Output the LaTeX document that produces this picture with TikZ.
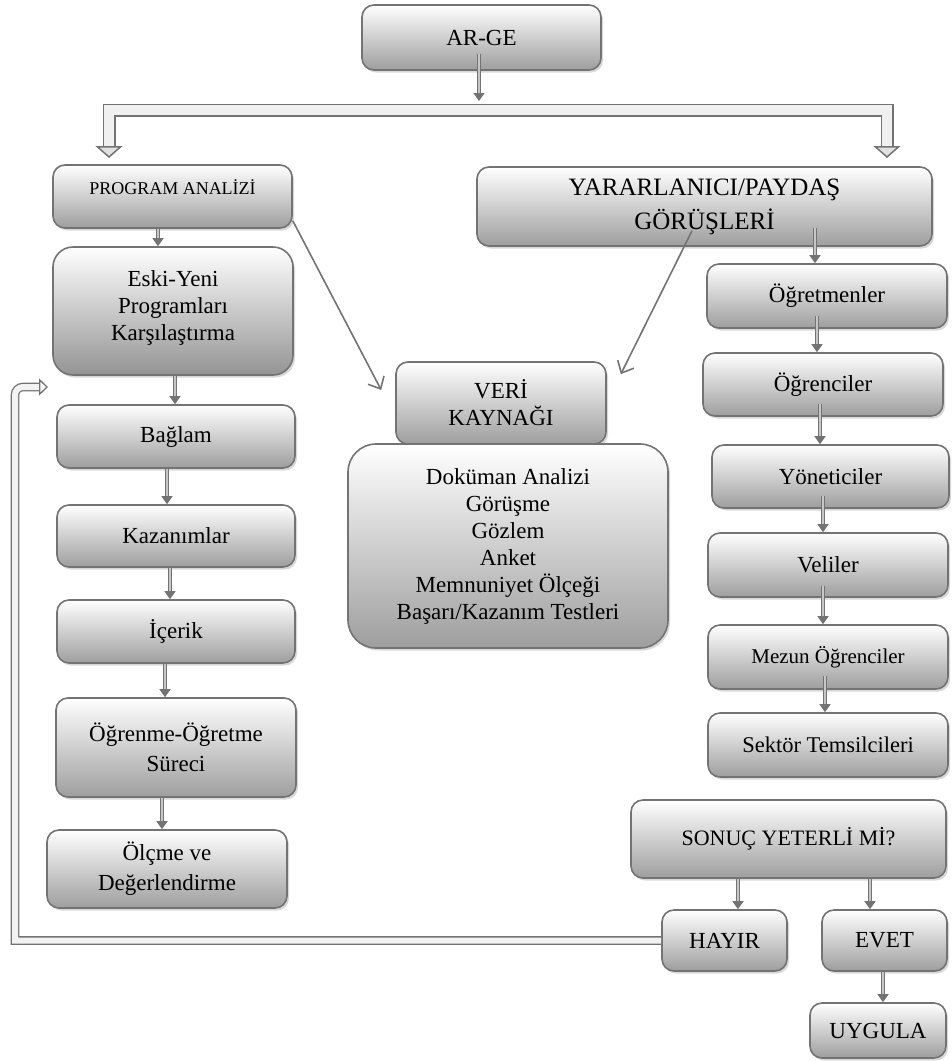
\documentclass[tikz,border=0pt]{standalone}
\usepackage{fontspec}
\setmainfont{Liberation Serif}
\usetikzlibrary{arrows.meta,shadows,calc}
\begin{document}
\begin{tikzpicture}[x=1pt,y=-1pt,
  box/.style={draw=black!55, line width=1.6pt, rounded corners=12pt,
    top color=white, bottom color=black!38,
    drop shadow={shadow xshift=2pt, shadow yshift=-2.5pt, opacity=.3},
    align=center, inner sep=2pt, text=black,
    font=\fontsize{23}{27}\selectfont},
  conn/.style={draw=black!55, line width=1.3pt, double=black!22, double distance=1.8pt,
    -{Triangle[length=8pt,width=11pt]}},
  bigarrow/.style={draw=black!55, line width=1.5pt, double=black!6, double distance=10pt,
    {Triangle[length=12pt,width=27pt,fill=black!12,line width=1.5pt]}-{Triangle[length=12pt,width=27pt,fill=black!12,line width=1.5pt]}},
  fbarrow/.style={draw=black!55, line width=1.3pt, double=black!5, double distance=6pt,
    -{Triangle[length=9pt,width=17pt,fill=white,line width=1.3pt]}},
  vline/.style={draw=black!55, line width=1.6pt, -{Straight Barb[length=10pt,width=18pt]}}
]
\fill[white] (0,0) rectangle (952,1061);
\useasboundingbox (0,0) rectangle (952,1061);

% nodes
\node[box, minimum width=239pt, minimum height=65pt] (arge) at (481.5,37.5) {AR-GE};
\node[box, minimum width=239pt, minimum height=63pt, font=\fontsize{18}{21}\selectfont] (progan) at (172.5,196.5)
  {\raisebox{9.5pt}[\height][\depth]{PROGRAM ANALİZİ}};
\node[box, minimum width=455pt, minimum height=79pt, font=\fontsize{25}{34}\selectfont] (yarar) at (704.5,206.5)
  {YARARLANICI/PAYDAŞ\\GÖRÜŞLERİ};
\node[box, rounded corners=20pt, bottom color=black!42, minimum width=240pt, minimum height=128pt] (eski) at (173,311)
  {\raisebox{3pt}[\height][\depth]{\begin{tabular}{@{}c@{}}Eski-Yeni\\Programları\\Karşılaştırma\end{tabular}}};
\node[box, minimum width=238pt, minimum height=63pt] (baglam) at (176,436.5) {Bağlam};
\node[box, minimum width=238pt, minimum height=62pt] (kazan) at (176,536) {Kazanımlar};
\node[box, minimum width=238pt, minimum height=63pt] (icerik) at (176,631.5) {İçerik};
\node[box, minimum width=240pt, minimum height=99pt, font=\fontsize{23}{30}\selectfont] (ogrenme) at (176,747.5)
  {Öğrenme-Öğretme\\Süreci};
\node[box, minimum width=240pt, minimum height=78pt, font=\fontsize{23}{30}\selectfont] (olcme) at (167,869)
  {Ölçme ve\\Değerlendirme};
\node[box, minimum width=210pt, minimum height=82pt] (veri) at (501,403) {VERİ\\KAYNAĞI};
\node[box, rounded corners=28pt, minimum width=320pt, minimum height=204pt] (dok) at (508,546)
  {Doküman Analizi\\Görüşme\\Gözlem\\Anket\\Memnuniyet Ölçeği\\Başarı/Kazanım Testleri};
\node[box, minimum width=240pt, minimum height=64pt] (ogretmen) at (827,296) {Öğretmenler};
\node[box, minimum width=240pt, minimum height=63pt] (ogrenci) at (823,384.5) {Öğrenciler};
\node[box, minimum width=237pt, minimum height=63pt] (yonetici) at (830.5,476.5) {Yöneticiler};
\node[box, minimum width=240pt, minimum height=64pt] (veli) at (828,565) {Veliler};
\node[box, minimum width=240pt, minimum height=64pt, font=\fontsize{21}{25}\selectfont] (mezun) at (828,657) {Mezun Öğrenciler};
\node[box, minimum width=240pt, minimum height=64pt, font=\fontsize{22.5}{27}\selectfont] (sektor) at (828,745) {Sektör Temsilcileri};
\node[box, minimum width=315pt, minimum height=78pt, font=\fontsize{22}{27}\selectfont] (sonuc) at (788.5,839) {SONUÇ YETERLİ Mİ?};
\node[box, minimum width=125pt, minimum height=61pt] (hayir) at (724.5,940.5) {HAYIR};
\node[box, minimum width=125pt, minimum height=61pt] (evet) at (884.5,940.5) {EVET};
\node[box, minimum width=136pt, minimum height=55pt] (uygula) at (878,1030.5) {UYGULA};

% branch from AR-GE
\coordinate (bandtop) at (479,101);
\coordinate (brL) at (109,158);
\coordinate (brTL) at (109,110);
\coordinate (brTR) at (887,110);
\coordinate (brR) at (887,158);
\draw[bigarrow] (brL) -- (brTL) -- (brTR) -- (brR);
\draw[conn] ($(arge.south -| bandtop)+(0,-17)$) -- (bandtop);

% left column
\draw[conn] (progan.south -| 158,0) -- (eski.north -| 158,0);
\draw[conn] (eski.south -| 175,0) -- (baglam.north -| 175,0);
\draw[conn] (baglam.south -| 167,0) -- (kazan.north -| 167,0);
\draw[conn] (kazan.south -| 170,0) -- (icerik.north -| 170,0);
\draw[conn] (icerik.south -| 165,0) -- (ogrenme.north -| 165,0);
\draw[conn] (ogrenme.south -| 162,0) -- (olcme.north -| 162,0);

% right column
\draw[conn] ($(yarar.south -| 815,0)+(0,-19)$) -- (ogretmen.north -| 815,0);
\draw[conn] ($(ogretmen.south -| 817,0)+(0,-13)$) -- (ogrenci.north -| 817,0);
\draw[conn] ($(ogrenci.south -| 820,0)+(0,-13)$) -- (yonetici.north -| 820,0);
\draw[conn] ($(yonetici.south -| 823,0)+(0,-13)$) -- (veli.north -| 823,0);
\draw[conn] ($(veli.south -| 823,0)+(0,-12)$) -- (mezun.north -| 823,0);
\draw[conn] ($(mezun.south -| 825,0)+(0,-14)$) -- (sektor.north -| 825,0);

% decision
\draw[conn] (sonuc.south -| 738,0) -- (hayir.north -| 738,0);
\draw[conn] (sonuc.south -| 870,0) -- (evet.north -| 870,0);
\draw[conn] (evet.south -| 883,0) -- (uygula.north -| 883,0);

% data source arrows
\draw[vline] ($(progan.south east)+(0,-8)$) -- ($(veri.west)+(-14,-13)$);
\draw[vline] ($(yarar.south)+(-12.5,-16)$) -- ($(veri.north east)+(14,13)$);

% feedback loop (sharp bottom corner, rounded top corner)
\coordinate (fbB) at (15,940.5);
\coordinate (fbT) at (15,387);
\coordinate (fbE) at (48,387);
\draw[fbarrow] (hayir.west) -- (fbB) [rounded corners=8pt] -- (fbT) -- (fbE);
\end{tikzpicture}
\end{document}
